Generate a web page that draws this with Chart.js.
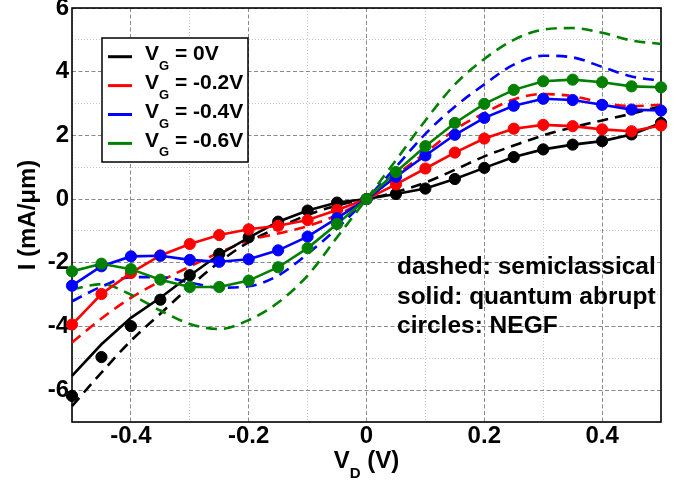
<!DOCTYPE html>
<html><head><meta charset="utf-8">
<script src="https://cdn.jsdelivr.net/npm/chart.js@4/dist/chart.umd.min.js"></script>
<style>html,body{margin:0;padding:0;background:#fff}</style>
</head><body>
<canvas id="c" width="698" height="485" style="display:block;width:698px;height:485px"></canvas>
<script>
// ---- data ----
const vd = [-0.5,-0.45,-0.4,-0.35,-0.3,-0.25,-0.2,-0.15,-0.1,-0.05,0,0.05,0.1,0.15,0.2,0.25,0.3,0.35,0.4,0.45,0.5];
const gateLabels = ['0V','-0.2V','-0.4V','-0.6V'];
const colors = ['#000000','#ff0000','#0000ff','#008000'];

// circles: NEGF
const negf_0  = [-6.18,-4.96,-3.99,-3.16,-2.39,-1.72,-1.20,-0.71,-0.36,-0.11,0,0.16,0.33,0.63,0.98,1.32,1.56,1.71,1.82,2.03,2.39];
const negf_02 = [-3.94,-2.98,-2.32,-1.77,-1.41,-1.13,-0.95,-0.84,-0.66,-0.34,0,0.46,0.96,1.46,1.90,2.21,2.33,2.29,2.19,2.13,2.31];
const negf_04 = [-2.72,-2.11,-1.80,-1.78,-1.91,-1.97,-1.89,-1.61,-1.18,-0.60,0,0.70,1.37,2.02,2.55,2.93,3.15,3.11,2.96,2.81,2.78];
const negf_06 = [-2.27,-2.03,-2.20,-2.53,-2.76,-2.76,-2.56,-2.14,-1.54,-0.78,0,0.85,1.66,2.39,2.99,3.43,3.70,3.75,3.67,3.54,3.51];

// solid: quantum abrupt
const quant_0  = [-5.55,-4.56,-3.73,-3.10,-2.40,-1.74,-1.21,-0.71,-0.36,-0.11,0,0.16,0.33,0.63,0.98,1.32,1.56,1.71,1.82,2.03,2.39];
const quant_02 = [-3.94,-2.98,-2.32,-1.77,-1.41,-1.13,-0.95,-0.84,-0.66,-0.34,0,0.46,0.96,1.46,1.90,2.21,2.33,2.29,2.19,2.13,2.31];
const quant_04 = [-2.72,-2.11,-1.80,-1.78,-1.91,-1.97,-1.89,-1.61,-1.18,-0.60,0,0.70,1.37,2.02,2.55,2.93,3.15,3.11,2.96,2.81,2.78];
const quant_06 = [-2.27,-2.03,-2.20,-2.53,-2.76,-2.76,-2.56,-2.14,-1.54,-0.78,0,0.85,1.66,2.39,2.99,3.43,3.70,3.75,3.67,3.54,3.51];

// dashed: semiclassical
const semi_0  = [-6.5,-5.45,-4.45,-3.6,-2.75,-1.98,-1.35,-0.9,-0.5,-0.2,0,0.22,0.52,0.92,1.34,1.68,2.0,2.25,2.47,2.68,2.92];
const semi_02 = [-4.5,-3.75,-3.1,-2.58,-2.12,-1.68,-1.3,-1.08,-0.85,-0.5,0,0.75,1.45,2.18,2.7,3.13,3.3,3.23,3.03,2.92,2.96];
const semi_04 = [-3.21,-2.75,-2.45,-2.45,-2.62,-2.78,-2.74,-2.4,-1.72,-0.92,0,1.01,2.05,2.9,3.6,4.22,4.5,4.45,4.15,3.85,3.72];
const semi_06 = [-2.84,-2.67,-3.0,-3.5,-3.92,-4.08,-3.8,-3.25,-2.4,-1.2,0,1.22,2.47,3.6,4.4,5.0,5.32,5.37,5.22,4.98,4.87];

const xTitleMain = 'V', xTitleSub = 'D', xTitleRest = ' (V)';
const yTitle = 'I (mA/\u03bcm)';
const noteLines = ['dashed: semiclassical','solid: quantum abrupt','circles: NEGF'];

// ---- build ----
const FONT = '"Liberation Sans", Arial, Helvetica, sans-serif';
const pts = arr => arr.map((y,i)=>({x:vd[i], y}));
const negf = [negf_0, negf_02, negf_04, negf_06];
const quant = [quant_0, quant_02, quant_04, quant_06];
const semi = [semi_0, semi_02, semi_04, semi_06];

const datasets = [];
for (let g = 3; g >= 0; g--) datasets.push({
  data: pts(negf[g]), showLine:false, pointRadius:5.6, pointHoverRadius:5.6,
  pointBackgroundColor: colors[g], pointBorderColor: colors[g], pointBorderWidth:1,
  borderColor: colors[g], backgroundColor: colors[g], clip:false
});
for (let g = 3; g >= 0; g--) datasets.push({
  data: pts(quant[g]), showLine:true, borderColor: colors[g], backgroundColor: colors[g],
  borderWidth:2.6, pointRadius:0, pointHoverRadius:0, tension:0, fill:false, clip:false
});
for (let g = 3; g >= 0; g--) datasets.push({
  data: pts(semi[g]), showLine:true, borderColor: colors[g], backgroundColor: colors[g],
  borderWidth:2.6, pointRadius:0, pointHoverRadius:0, fill:false,
  borderDash:[11,7], cubicInterpolationMode:'monotone', clip:false
});

const isMajorX = v => { const k = Math.round(v*10); return k % 2 === 0; };
const isMajorY = v => Math.round(v) % 2 === 0;

const decor = {
  id:'decor',
  beforeDatasetsDraw(chart){
    const {ctx, chartArea:a} = chart;
    ctx.save(); ctx.setLineDash([]); ctx.strokeStyle='#000'; ctx.lineWidth=1.6;
    ctx.strokeRect(a.left, a.top, a.right-a.left, a.bottom-a.top);
    ctx.restore();
  },
  afterDatasetsDraw(chart){
    const {ctx, chartArea:a} = chart;
    ctx.save();
    ctx.setLineDash([]);
    // legend box
    const bx=102, by=38, bw=146, bh=124;
    ctx.fillStyle='#fff'; ctx.fillRect(bx,by,bw,bh);
    ctx.strokeStyle='#000'; ctx.lineWidth=1.5; ctx.strokeRect(bx,by,bw,bh);
    const rowY = [56.7, 85.6, 114.5, 143.4];
    for (let g=0; g<4; g++){
      const y = rowY[g];
      ctx.strokeStyle=colors[g]; ctx.lineWidth=3;
      ctx.beginPath(); ctx.moveTo(108,y); ctx.lineTo(132,y); ctx.stroke();
      ctx.fillStyle='#000'; ctx.textBaseline='alphabetic'; ctx.textAlign='left';
      let x = 145;
      ctx.font = 'bold 21px '+FONT; ctx.fillText('V', x, y+3.6); x += ctx.measureText('V').width;
      ctx.font = 'bold 13px '+FONT; ctx.fillText('G', x, y+13); x += ctx.measureText('G').width;
      ctx.font = 'bold 21px '+FONT; ctx.fillText(' = '+gateLabels[g], x, y+3.6);
    }
    // note text
    ctx.font = 'bold 24.5px '+FONT; ctx.fillStyle='#000';
    const ny=[274,303.5,332.5];
    noteLines.forEach((t,i)=>ctx.fillText(t, 397, ny[i]));
    // x title
    ctx.font='bold 24px '+FONT;
    const w1 = ctx.measureText(xTitleMain).width, w3 = ctx.measureText(xTitleRest).width;
    ctx.font='bold 15px '+FONT; const w2 = ctx.measureText(xTitleSub).width;
    let x = (a.left+a.right)/2 - (w1+w2+w3)/2;
    ctx.font='bold 24px '+FONT; ctx.fillText(xTitleMain, x, 468); x+=w1;
    ctx.font='bold 15px '+FONT; ctx.fillText(xTitleSub, x, 478); x+=w2;
    ctx.font='bold 24px '+FONT; ctx.fillText(xTitleRest, x, 468);
    // y title
    ctx.translate(35, (a.top+a.bottom)/2); ctx.rotate(-Math.PI/2);
    ctx.textAlign='center'; ctx.font='bold 24px '+FONT; ctx.fillText(yTitle, 0, 0);
    ctx.restore();
  }
};

new Chart(document.getElementById('c'), {
  type:'scatter',
  data:{datasets},
  plugins:[decor],
  options:{
    responsive:false, animation:false, events:[], devicePixelRatio:1,
    layout:{padding:{left:0, right:37, top:8, bottom:0}},
    plugins:{legend:{display:false}, tooltip:{enabled:false}},
    scales:{
      x:{type:'linear', min:-0.5, max:0.5,
        afterFit(s){ s.height=63; s.paddingLeft=0; s.paddingRight=0; },
        ticks:{stepSize:0.1, autoSkip:false, maxRotation:0, padding:0, color:'#000',
          font:{family:FONT, size:24, weight:'bold'},
          callback:(v)=>{ const k=Math.round(v*10); if (k%2!==0 || Math.abs(k)===5) return ''; return String(k/10); }},
        grid:{drawTicks:false, lineWidth:1,
          color:(c)=> c.tick && isMajorX(c.tick.value) ? '#8a8a8a' : '#c4c4c4'},
        border:{display:false, dash:(c)=> c.tick ? (isMajorX(c.tick.value)?[4,2.5]:[1,2]) : []}
      },
      y:{type:'linear', min:-7, max:6,
        afterFit(s){ s.width=72; s.paddingTop=0; s.paddingBottom=0; },
        ticks:{stepSize:1, autoSkip:false, padding:3, color:'#000',
          font:{family:FONT, size:24, weight:'bold'},
          callback:(v)=>{ const k=Math.round(v); if (k%2!==0) return ''; return String(k); }},
        grid:{drawTicks:false, lineWidth:1,
          color:(c)=> c.tick && isMajorY(c.tick.value) ? '#8a8a8a' : '#c4c4c4'},
        border:{display:false, dash:(c)=> c.tick ? (isMajorY(c.tick.value)?[4,2.5]:[1,2]) : []}
      }
    }
  }
});
</script>
</body></html>
